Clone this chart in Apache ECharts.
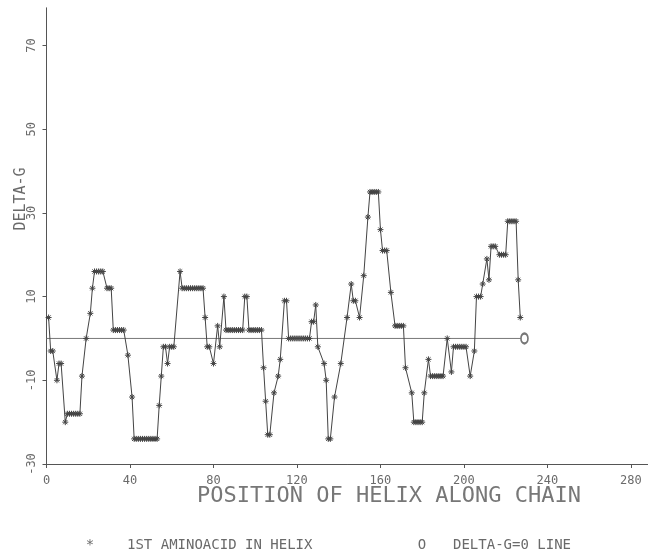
<!DOCTYPE html>
<html>
<head>
<meta charset="utf-8">
<script src="https://cdn.jsdelivr.net/npm/echarts@6/dist/echarts.min.js"></script>
<style>
html,body{margin:0;padding:0;background:#fff;}
#chart{width:648px;height:552px;}
</style>
</head>
<body>
<div id="chart"></div>
<script>
// Position of first amino acid of helix along chain
const positions = [
  1,2,3,5,6,7,9,
  10,11,12,13,14,15,16,17,19,
  21,22,23,24,25,26,27,29,30,31,
  32,33,34,35,36,37,39,
  41,42,43,44,45,46,47,48,49,50,51,52,53,54,55,
  56,57,58,59,60,61,64,
  65,66,67,68,69,70,71,72,73,74,75,
  76,77,78,80,82,83,85,
  86,87,88,89,90,91,92,93,94,95,96,
  97,98,99,100,101,102,103,104,105,106,107,109,111,112,114,115,
  116,117,118,119,120,121,122,123,124,125,126,
  127,128,129,130,133,134,135,136,138,141,144,146,147,148,150,152,154,
  155,156,157,158,159,160,161,162,163,165,
  167,168,169,170,171,172,175,
  176,177,178,179,180,181,183,
  184,185,186,187,188,189,190,192,194,
  195,196,197,198,199,200,201,203,205,
  206,207,208,209,211,212,213,214,215,
  217,218,219,220,221,222,223,224,225,226,227
];
const deltaG = [
  5,-3,-3,-10,-6,-6,-20,
  -18,-18,-18,-18,-18,-18,-18,-9,0,
  6,12,16,16,16,16,16,12,12,12,
  2,2,2,2,2,2,-4,
  -14,-24,-24,-24,-24,-24,-24,-24,-24,-24,-24,-24,-24,-16,-9,
  -2,-2,-6,-2,-2,-2,16,
  12,12,12,12,12,12,12,12,12,12,12,
  5,-2,-2,-6,3,-2,10,
  2,2,2,2,2,2,2,2,2,10,10,
  2,2,2,2,2,2,2,-7,-15,-23,-23,-13,-9,-5,9,9,
  0,0,0,0,0,0,0,0,0,0,0,
  4,4,8,-2,-6,-10,-24,-24,-14,-6,5,13,9,9,5,15,29,
  35,35,35,35,35,26,21,21,21,11,
  3,3,3,3,3,-7,-13,
  -20,-20,-20,-20,-20,-13,-5,
  -9,-9,-9,-9,-9,-9,-9,0,-8,
  -2,-2,-2,-2,-2,-2,-2,-9,-3,
  10,10,10,13,19,14,22,22,22,
  20,20,20,20,28,28,28,28,28,14,5
];
// Delta-G = 0 reference line
const zeroLineX = [0, 229];
const zeroLineY = [0, 0];
// Axis ticks
const xTicks = [0, 40, 80, 120, 160, 200, 240, 280];
const yTicks = [-30, -10, 10, 30, 50, 70];

const FONT = '"DejaVu Sans Mono", "Liberation Mono", monospace';
const TXT = '#6a6a6a';
const AX = '#555';

const helixData = positions.map((p, i) => [p, deltaG[i]]);
const zeroData = zeroLineX.map((x, i) => (
  i === zeroLineX.length - 1
    ? { value: [x, zeroLineY[i]], symbol: 'emptyCircle', symbolSize: [7, 10] }
    : { value: [x, zeroLineY[i]], symbol: 'none' }
));

const chart = echarts.init(document.getElementById('chart'), null, { renderer: 'canvas' });
chart.setOption({
  animation: false,
  backgroundColor: '#fff',
  grid: { left: 46.5, right: 0.4, top: 7.8, bottom: 88, containLabel: false },
  xAxis: {
    type: 'value', min: 0, max: 288,
    axisLine: { show: true, onZero: false, lineStyle: { color: AX, width: 1 } },
    axisTick: { show: true, inside: false, length: 4, customValues: xTicks, lineStyle: { color: AX } },
    axisLabel: { customValues: xTicks, margin: 11, fontFamily: FONT, fontSize: 12, color: TXT },
    splitLine: { show: false }
  },
  yAxis: {
    type: 'value', min: -30, max: 79,
    axisLine: { show: true, onZero: false, lineStyle: { color: AX, width: 1 } },
    axisTick: { show: true, inside: false, length: 4, customValues: yTicks, lineStyle: { color: AX } },
    axisLabel: { customValues: yTicks, rotate: 90, margin: 9, fontFamily: FONT, fontSize: 12, color: TXT },
    splitLine: { show: false }
  },
  series: [
    {
      type: 'line',
      data: zeroData,
      lineStyle: { color: '#777', width: 1 },
      itemStyle: { color: '#777', borderColor: '#777', borderWidth: 1 },
      showAllSymbol: true,
      z: 1
    },
    {
      type: 'line',
      data: helixData,
      symbol: 'path://M5,0L5,10M0,5L10,5M1.5,1.5L8.5,8.5M8.5,1.5L1.5,8.5',
      symbolSize: 6,
      showAllSymbol: true,
      lineStyle: { color: '#444', width: 1 },
      itemStyle: { color: '#444', borderColor: '#444', borderWidth: 1 },
      z: 2
    }
  ],
  graphic: [
    { type: 'text', x: 21, y: 199, rotation: Math.PI / 2,
      style: { text: 'DELTA-G', font: '15px ' + FONT, fill: TXT, textAlign: 'center', textVerticalAlign: 'middle' } },
    { type: 'text', x: 389, y: 496,
      style: { text: 'POSITION OF HELIX ALONG CHAIN', font: '22px ' + FONT, fill: '#777', textAlign: 'center', textVerticalAlign: 'middle' } },
    { type: 'text', x: 90, y: 545,
      style: { text: '*', font: '14px ' + FONT, fill: TXT, textAlign: 'center', textVerticalAlign: 'middle' } },
    { type: 'text', x: 127, y: 545,
      style: { text: '1ST AMINOACID IN HELIX', font: '14px ' + FONT, fill: TXT, textAlign: 'left', textVerticalAlign: 'middle' } },
    { type: 'text', x: 422, y: 545,
      style: { text: 'O', font: '14px ' + FONT, fill: TXT, textAlign: 'center', textVerticalAlign: 'middle' } },
    { type: 'text', x: 453, y: 545,
      style: { text: 'DELTA-G=0 LINE', font: '14px ' + FONT, fill: TXT, textAlign: 'left', textVerticalAlign: 'middle' } }
  ]
});
</script>
</body>
</html>
